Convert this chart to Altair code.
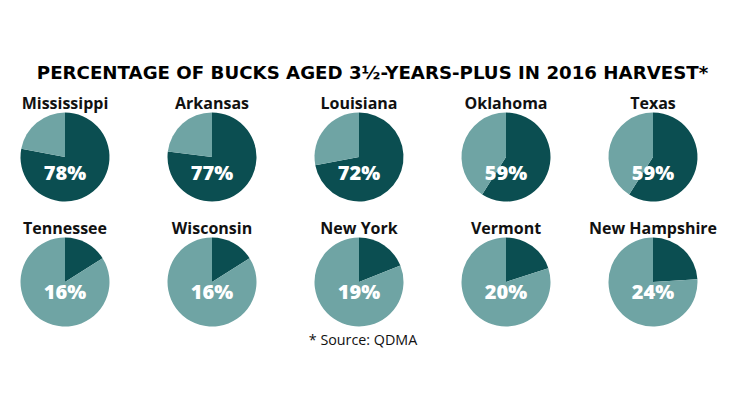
import altair as alt
import pandas as pd
import math

states = ["Mississippi", "Arkansas", "Louisiana", "Oklahoma", "Texas",
          "Tennessee", "Wisconsin", "New York", "Vermont", "New Hampshire"]
pct_old = [78, 77, 72, 59, 59, 16, 16, 19, 20, 24]
cols = [0, 1, 2, 3, 4, 0, 1, 2, 3, 4]
rows = [0, 0, 0, 0, 0, 1, 1, 1, 1, 1]

DARK = "#0b4e51"
LIGHT = "#6fa4a4"

slices = []
for s, v, c, r in zip(states, pct_old, cols, rows):
    slices.append({"state": s, "part": "3½+", "start": 0, "end": v, "col": c, "row": r})
    slices.append({"state": s, "part": "younger", "start": v, "end": 100, "col": c, "row": r})
slice_df = pd.DataFrame(slices)

label_df = pd.DataFrame({"state": states, "pct": pct_old, "col": cols, "row": rows})
label_df["pct_label"] = label_df["pct"].astype(str) + "%"

W, H = 729, 390
xs = alt.Scale(domain=[-57 / 147, (W - 57) / 147], range=[0, W])
ys = alt.Scale(domain=[-149 / 125, (H - 149) / 125], range=[0, H])
X = alt.X("col:Q", scale=xs, axis=None)
Y = alt.Y("row:Q", scale=ys, axis=None)

pies = alt.Chart(slice_df).mark_arc(radius=44.5).encode(
    x=X, y=Y,
    theta=alt.Theta("start:Q", scale=alt.Scale(domain=[0, 100], range=[0, 2 * math.pi])),
    theta2="end:Q",
    color=alt.Color("part:N", scale=alt.Scale(domain=["3½+", "younger"], range=[DARK, LIGHT]), legend=None),
)

names = alt.Chart(label_df).mark_text(
    font="Open Sans", fontWeight="bold", fontSize=16, color="#111111",
    baseline="middle", dy=-53
).encode(x=X, y=Y, text="state:N")

pct_top = alt.Chart(label_df).transform_filter("datum.row == 0").mark_text(
    font="Open Sans", fontWeight=800, fontSize=20, color="white", baseline="middle", dy=17
).encode(x=X, y=Y, text="pct_label:N")

pct_bot = alt.Chart(label_df).transform_filter("datum.row == 1").mark_text(
    font="Open Sans", fontWeight=800, fontSize=20, color="white", baseline="middle", dy=11
).encode(x=X, y=Y, text="pct_label:N")

title_df = pd.DataFrame({"t": ["PERCENTAGE OF BUCKS AGED 3½-YEARS-PLUS IN 2016 HARVEST*"]})
title = alt.Chart(title_df).mark_text(
    font="DejaVu Sans", fontWeight="bold", fontSize=18.2, color="#000000", baseline="middle"
).encode(x=alt.value(364.5), y=alt.value(66), text="t:N")

foot_df = pd.DataFrame({"t": ["* Source: QDMA"]})
foot = alt.Chart(foot_df).mark_text(
    font="Open Sans", fontSize=14.3, color="#111111", baseline="middle"
).encode(x=alt.value(355), y=alt.value(333), text="t:N")

chart = alt.layer(pies, names, pct_top, pct_bot, title, foot).properties(
    width=W, height=H, padding=0, autosize=alt.AutoSizeParams(type="none")
).configure_view(strokeWidth=0)

chart.save("out.html", embed_options={"renderer": "svg", "actions": False})
